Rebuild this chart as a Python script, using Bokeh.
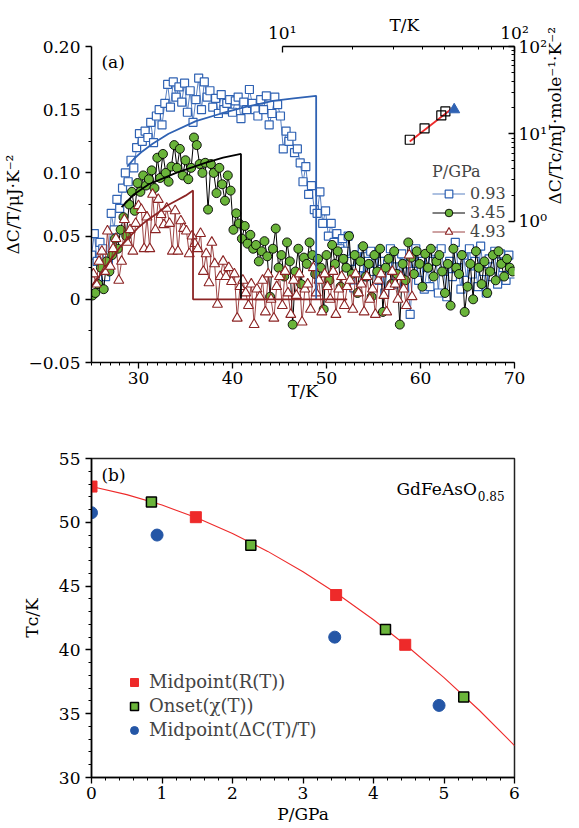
import math
from bokeh.plotting import figure
from bokeh.models import (Range1d, LogScale, LogAxis, FixedTicker, Label, Legend,
                          LegendItem, CustomJSTickFormatter, Title)
from bokeh.layouts import column
from bokeh.embed import file_html
from bokeh.resources import INLINE

FONT = "DejaVu Serif"

# ---------------- Panel (a): Delta C / T vs T ----------------
T_093 = [25.0, 25.3, 25.6, 25.9, 26.2, 26.5, 26.8, 27.1, 27.4, 27.7,
         28.0, 28.3, 28.6, 28.9, 29.2, 29.5, 29.8, 30.1, 30.4, 30.7,
         31.0, 31.3, 31.6, 31.9, 32.2, 32.5, 32.8, 33.1, 33.4, 33.7,
         34.0, 34.3, 34.6, 34.9, 35.2, 35.5, 35.8, 36.1, 36.4, 36.7,
         37.0, 37.3, 37.6, 37.9, 38.2, 38.5, 38.8, 39.1, 39.4, 39.7,
         40.0, 40.3, 40.6, 40.9, 41.2, 41.5, 41.8, 42.1, 42.4, 42.7,
         43.0, 43.3, 43.6, 43.9, 44.2, 44.5, 44.8, 45.1, 45.4, 45.7,
         46.0, 46.3, 46.6, 46.9, 47.2, 47.5, 47.8, 48.1, 48.4, 48.7,
         49.0, 49.3, 49.6, 49.9, 50.2, 50.5, 50.8, 51.1, 51.4, 51.7,
         52.0, 52.3, 52.6, 52.9, 53.2, 53.5, 53.8, 54.1, 54.4, 54.7,
         55.0, 55.3, 55.6, 55.9, 56.2, 56.5, 56.8, 57.1, 57.4, 57.7,
         58.0, 58.3, 58.6, 58.9, 59.2, 59.5, 59.8, 60.1, 60.4, 60.7,
         61.0, 61.3, 61.6, 61.9, 62.2, 62.5, 62.8, 63.1, 63.4, 63.7,
         64.0, 64.3, 64.6, 64.9, 65.2, 65.5, 65.8, 66.1, 66.4, 66.7,
         67.0, 67.3, 67.6, 67.9, 68.2, 68.5, 68.8, 69.1, 69.4, 69.7]
dC_093 = [0.035, 0.052, 0.030, 0.045, 0.040, 0.018, 0.030, 0.068, 0.055, 0.079,
          0.072, 0.088, 0.100, 0.093, 0.110, 0.104, 0.120, 0.131, 0.125, 0.133,
          0.128, 0.140, 0.124, 0.145, 0.150, 0.138, 0.155, 0.170, 0.152, 0.172,
          0.160, 0.168, 0.156, 0.171, 0.148, 0.165, 0.140, 0.158, 0.175, 0.150,
          0.172, 0.160, 0.165, 0.152, 0.159, 0.147, 0.162, 0.150, 0.155, 0.158,
          0.148, 0.157, 0.160, 0.143, 0.156, 0.150, 0.166, 0.155, 0.150, 0.145,
          0.158, 0.150, 0.161, 0.138, 0.147, 0.160, 0.154, 0.145, 0.119, 0.133,
          0.125, 0.129, 0.116, 0.119, 0.108, 0.093, 0.105, 0.083, 0.090, 0.071,
          0.068, 0.085, 0.060, 0.070, 0.050, 0.060, 0.045, 0.052, 0.040, 0.048,
          0.038, 0.050, 0.030, 0.009, 0.035, 0.025, 0.040, 0.018, 0.030, 0.038,
          0.022, 0.035, 0.015, 0.030, 0.005, 0.028, 0.040, 0.012, 0.032, 0.020,
          0.036, 0.010, 0.028, -0.012, 0.022, 0.040, 0.015, 0.030, 0.008, 0.025,
          0.010, 0.030, 0.038, 0.005, 0.040, 0.022, 0.002, 0.030, 0.018, 0.045,
          0.025, 0.008, 0.035, 0.015, 0.040, 0.020, 0.030, 0.010, 0.042, 0.022,
          0.005, 0.032, 0.018, 0.038, 0.012, 0.036, 0.025, 0.015, 0.035, 0.020]

T_345 = [25.1, 25.4, 25.7, 26.0, 26.3, 26.6, 26.9, 27.2, 27.5, 27.8,
         28.1, 28.4, 28.7, 29.0, 29.3, 29.6, 29.9, 30.2, 30.5, 30.8,
         31.1, 31.4, 31.7, 32.0, 32.3, 32.6, 32.9, 33.2, 33.5, 33.8,
         34.1, 34.4, 34.7, 35.0, 35.3, 35.6, 35.9, 36.2, 36.5, 36.8,
         37.1, 37.4, 37.7, 38.0, 38.3, 38.6, 38.9, 39.2, 39.5, 39.8,
         40.1, 40.4, 40.7, 41.0, 41.3, 41.6, 41.9, 42.2, 42.5, 42.8,
         43.1, 43.4, 43.7, 44.0, 44.3, 44.6, 44.9, 45.2, 45.5, 45.8,
         46.1, 46.4, 46.7, 47.0, 47.3, 47.6, 47.9, 48.2, 48.5, 48.8,
         49.1, 49.4, 49.7, 50.0, 50.3, 50.6, 50.9, 51.2, 51.5, 51.8,
         52.1, 52.4, 52.7, 53.0, 53.3, 53.6, 53.9, 54.2, 54.5, 54.8,
         55.1, 55.4, 55.7, 56.0, 56.3, 56.6, 56.9, 57.2, 57.5, 57.8,
         58.1, 58.4, 58.7, 59.0, 59.3, 59.6, 59.9, 60.2, 60.5, 60.8,
         61.1, 61.4, 61.7, 62.0, 62.3, 62.6, 62.9, 63.2, 63.5, 63.8,
         64.1, 64.4, 64.7, 65.0, 65.3, 65.6, 65.9, 66.2, 66.5, 66.8,
         67.1, 67.4, 67.7, 68.0, 68.3, 68.6, 68.9, 69.2, 69.5, 69.8]
dC_345 = [0.003, 0.005, 0.012, 0.025, 0.008, 0.030, 0.022, 0.035, 0.048, 0.040,
          0.055, 0.065, 0.050, 0.075, 0.085, 0.070, 0.092, 0.085, 0.098, 0.090,
          0.095, 0.102, 0.088, 0.112, 0.096, 0.115, 0.100, 0.093, 0.105, 0.122,
          0.104, 0.119, 0.098, 0.110, 0.095, 0.104, 0.128, 0.122, 0.107, 0.100,
          0.108, 0.071, 0.107, 0.100, 0.084, 0.104, 0.091, 0.078, 0.098, 0.086,
          0.055, 0.068, 0.060, 0.048, 0.058, 0.044, 0.051, 0.040, 0.043, 0.030,
          0.038, 0.046, 0.034, 0.002, 0.040, 0.056, 0.025, 0.035, 0.018, 0.045,
          0.030, -0.020, 0.022, 0.040, 0.012, 0.033, 0.028, 0.045, 0.035, 0.020,
          0.032, 0.025, -0.008, 0.035, 0.015, 0.043, 0.028, 0.038, 0.010, 0.032,
          0.025, 0.050, 0.020, 0.035, 0.005, 0.030, 0.042, 0.018, 0.028, 0.002,
          0.035, 0.022, 0.040, -0.010, 0.025, 0.032, 0.012, 0.038, 0.020, -0.020,
          0.028, 0.015, 0.045, 0.033, 0.020, 0.038, 0.028, 0.010, 0.036, 0.025,
          0.040, 0.018, 0.030, 0.035, 0.022, 0.005, 0.028, -0.005, 0.040, 0.025,
          0.020, 0.035, -0.010, 0.010, 0.028, 0.000, 0.038, 0.025, 0.012, 0.030,
          0.005, 0.022, 0.035, 0.015, 0.038, 0.028, 0.018, 0.032, 0.025, 0.022]

T_493 = [25.2, 25.5, 25.8, 26.1, 26.4, 26.7, 27.0, 27.3, 27.6, 27.9,
         28.2, 28.5, 28.8, 29.1, 29.4, 29.7, 30.0, 30.3, 30.6, 30.9,
         31.2, 31.5, 31.8, 32.1, 32.4, 32.7, 33.0, 33.3, 33.6, 33.9,
         34.2, 34.5, 34.8, 35.1, 35.4, 35.7, 36.0, 36.3, 36.6, 36.9,
         37.2, 37.5, 37.8, 38.1, 38.4, 38.7, 39.0, 39.3, 39.6, 39.9,
         40.2, 40.5, 40.8, 41.1, 41.4, 41.7, 42.0, 42.3, 42.6, 42.9,
         43.2, 43.5, 43.8, 44.1, 44.4, 44.7, 45.0, 45.3, 45.6, 45.9,
         46.2, 46.5, 46.8, 47.1, 47.4, 47.7, 48.0, 48.3, 48.6, 48.9,
         49.2, 49.5, 49.8, 50.1, 50.4, 50.7, 51.0, 51.3, 51.6, 51.9,
         52.2, 52.5, 52.8, 53.1, 53.4, 53.7, 54.0, 54.3, 54.6, 54.9,
         55.2, 55.5, 55.8, 56.1, 56.4, 56.7, 57.0, 57.3, 57.6, 57.9,
         58.2, 58.5, 58.8, 59.1]
dC_493 = [0.020, 0.012, 0.030, 0.038, 0.022, 0.054, 0.026, 0.040, 0.048, 0.015,
          0.030, 0.063, 0.045, 0.055, 0.038, 0.060, 0.074, 0.071, 0.040, 0.065,
          0.040, 0.083, 0.055, 0.079, 0.067, 0.059, 0.072, 0.060, 0.038, 0.070,
          0.038, 0.062, 0.056, 0.054, 0.036, 0.050, 0.044, 0.040, 0.052, 0.022,
          0.036, 0.013, 0.045, 0.028, -0.004, 0.018, 0.030, 0.018, 0.025, 0.014,
          0.020, -0.015, 0.010, 0.015, 0.005, -0.005, 0.012, -0.020, 0.008, 0.002,
          0.015, -0.010, 0.020, 0.000, -0.015, 0.010, 0.018, -0.005, 0.022, 0.005,
          -0.012, 0.015, 0.003, 0.020, -0.018, 0.008, 0.012, -0.008, 0.025, 0.005,
          0.015, -0.010, 0.020, 0.010, 0.000, 0.022, -0.012, 0.008, 0.018, -0.005,
          0.010, 0.015, -0.008, 0.020, 0.005, 0.012, -0.010, 0.018, 0.000, 0.008,
          -0.012, 0.015, 0.020, 0.003, -0.010, 0.010, 0.022, 0.012, 0.000, 0.018,
          0.008, -0.005, 0.035, 0.002]

# fitted curves
fitT_093 = [28.8, 29.5, 30.4, 31.5, 33.2, 36.1, 38.8, 41.3, 44.3, 46.5, 48.9, 48.9]
fitC_093 = [0.105, 0.111, 0.117, 0.123, 0.131, 0.141, 0.147, 0.152, 0.157, 0.159, 0.161, 0.0]
fitT_345 = [28.2, 29.5, 31.1, 34.0, 37.1, 39.0, 40.9, 40.9]
fitC_345 = [0.073, 0.083, 0.091, 0.100, 0.108, 0.112, 0.115, 0.0]
fitT_493 = [25.0, 26.0, 27.0, 28.0, 29.0, 30.0, 31.0, 32.0, 33.0, 34.0, 35.0, 35.8, 35.8, 52.2]
fitC_493 = [0.010, 0.020, 0.031, 0.041, 0.049, 0.057, 0.063, 0.068, 0.074, 0.078, 0.082, 0.086, 0.0, 0.0]

# inset (log-log): Delta C / Tc vs T
inset_T = [35.4, 41.0, 48.4, 50.4]
inset_C = [8.6, 11.6, 16.3, 18.1]
inset_fitT = [35.4, 53.5]
inset_fitC = [8.2, 19.3]
inset_TcT = [55.0]
inset_TcC = [19.0]

# ---------------- Panel (b): Tc vs P ----------------
P_R = [0.0, 1.48, 3.47, 4.45]
Tc_R = [52.8, 50.4, 44.3, 40.4]
P_chi = [0.85, 2.26, 4.17, 5.28]
Tc_chi = [51.6, 48.2, 41.6, 36.3]
P_dC = [0.0, 0.93, 3.45, 4.93]
Tc_dC = [50.75, 49.0, 41.0, 35.65]
P_fit = [0.0, 0.5, 1.0, 1.5, 2.0, 2.5, 3.0, 3.5, 4.0, 4.5, 5.0, 5.5, 6.0]
Tc_fit = [52.8, 52.17, 51.35, 50.33, 49.13, 47.72, 46.13, 44.34, 42.36, 40.19, 37.83, 35.27, 32.5]

BLUE = "#2f62b3"
GREEN = "#6ab43a"
DRED = "#8c2424"
RED = "#ee2a2a"
TICK_SIZE = "17px"
TEXT_SIZE = "17px"

# ---------- figure (a) ----------
pa = figure(width=577, height=405, x_range=Range1d(25, 70), y_range=Range1d(-0.05, 0.20),
            output_backend="svg", toolbar_location=None,
            min_border_left=90, min_border_right=60, min_border_top=46, min_border_bottom=43)
pa.outline_line_color = None
pa.xgrid.visible = False
pa.ygrid.visible = False


def style_axis(ax, label=None, standoff=5):
    ax.axis_line_color = "black"
    ax.axis_line_width = 1.5
    ax.major_tick_line_color = "black"
    ax.major_tick_line_width = 1.3
    ax.minor_tick_line_color = "black"
    ax.minor_tick_line_width = 1.0
    ax.major_tick_out = 6
    ax.major_tick_in = 0
    ax.minor_tick_out = 3
    ax.minor_tick_in = 0
    ax.major_label_text_font = FONT
    ax.major_label_text_font_size = TICK_SIZE
    ax.major_label_text_color = "black"
    if label is not None:
        ax.axis_label = label
        ax.axis_label_text_font = FONT
        ax.axis_label_text_font_size = TEXT_SIZE
        ax.axis_label_text_font_style = "normal"
        ax.axis_label_text_color = "black"
        ax.axis_label_standoff = standoff


style_axis(pa.xaxis[0], "T/K", -6)
pa.xaxis[0].major_label_standoff = 3
style_axis(pa.yaxis[0], "\u0394C/T/\u03bcJ\u00b7K\u207b\u00b2", 2)
pa.xaxis.ticker = FixedTicker(ticks=[30, 40, 50, 60, 70], minor_ticks=list(range(25, 71)))
pa.yaxis.ticker = FixedTicker(ticks=[-0.05, 0, 0.05, 0.1, 0.15, 0.2],
                              minor_ticks=[-0.025, 0.025, 0.075, 0.125, 0.175])
pa.yaxis.formatter = CustomJSTickFormatter(code="""
if (Math.abs(tick) < 1e-9) return "0";
if (tick < 0) return "\u2212" + Math.abs(tick).toFixed(2);
return tick.toFixed(2);
""")

# data series
lb = pa.line(T_093, dC_093, line_color=BLUE, line_width=1, line_alpha=0.8)
sb = pa.scatter(T_093, dC_093, marker="square", size=8, line_color=BLUE, fill_color="white", line_width=1.2)
lg = pa.line(T_345, dC_345, line_color="black", line_width=1)
sg = pa.scatter(T_345, dC_345, marker="circle", size=9, line_color="black", fill_color=GREEN, line_width=0.9)
lr = pa.line(T_493, dC_493, line_color=DRED, line_width=1, line_alpha=0.85)
sr = pa.scatter(T_493, dC_493, marker="triangle", size=10, line_color=DRED, fill_color="white", line_width=1.1)

pa.line(fitT_093, fitC_093, line_color=BLUE, line_width=1.8)
pa.line(fitT_345, fitC_345, line_color="black", line_width=1.8)
pa.line(fitT_493, fitC_493, line_color=DRED, line_width=1.8)

# inset on log-log extra ranges
pa.extra_x_ranges = {"ix": Range1d(1.509, 100)}
pa.extra_x_scales = {"ix": LogScale()}
pa.extra_y_ranges = {"iy": Range1d(0.02446, 100)}
pa.extra_y_scales = {"iy": LogScale()}

LOGCODE = """
const e = Math.round(Math.log10(tick));
const sup = {0: "\u2070", 1: "\u00b9", 2: "\u00b2"};
return "10" + sup[e];
"""

top = LogAxis(x_range_name="ix", bounds=(10, 100),
              ticker=FixedTicker(ticks=[10, 100], minor_ticks=[20, 30, 40, 50, 60, 70, 80, 90]),
              formatter=CustomJSTickFormatter(code=LOGCODE))
style_axis(top)
top.major_tick_out = 0
top.major_tick_in = 6
top.minor_tick_out = 0
top.minor_tick_in = 3
top.major_label_standoff = 4
pa.add_layout(top, "above")
# inset x title, shifted over the inset axis span
pa.add_layout(Title(text="T/K", align="left", offset=298, standoff=-30,
                    text_font=FONT, text_font_size=TEXT_SIZE, text_font_style="normal",
                    text_color="black"), "above")

right = LogAxis(y_range_name="iy", bounds=(1, 100),
                ticker=FixedTicker(ticks=[1, 10, 100],
                                   minor_ticks=[2, 3, 4, 5, 6, 7, 8, 9, 20, 30, 40, 50, 60, 70, 80, 90]),
                formatter=CustomJSTickFormatter(code=LOGCODE))
style_axis(right, "\u0394C/T\u1d04/mJ\u00b7mole\u207b\u00b9\u00b7K\u207b\u00b2", 5)
right.major_tick_out = 0
right.major_tick_in = 6
right.minor_tick_out = 0
right.minor_tick_in = 3
right.major_label_standoff = 4
if "axis_label_orientation" in right.properties():
    right.axis_label_orientation = math.pi / 2
pa.add_layout(right, "right")

pa.line(inset_fitT, inset_fitC, x_range_name="ix", y_range_name="iy", line_color=RED, line_width=1.8)
pa.scatter(inset_T, inset_C, x_range_name="ix", y_range_name="iy", marker="square", size=9,
           line_color="black", fill_color="white", fill_alpha=0.0, line_width=1.2)
pa.scatter(inset_TcT, inset_TcC, x_range_name="ix", y_range_name="iy", marker="triangle", size=11,
           line_color=BLUE, fill_color=BLUE)

leg_a = Legend(items=[LegendItem(label="0.93", renderers=[lb, sb]),
                      LegendItem(label="3.45", renderers=[lg, sg]),
                      LegendItem(label="4.93", renderers=[lr, sr])],
               location=(341, 121), title="P/GPa")
leg_a.border_line_color = None
leg_a.background_fill_alpha = 0
leg_a.label_text_font = FONT
leg_a.label_text_font_size = "16px"
leg_a.title_text_font = FONT
leg_a.title_text_font_size = "16px"
leg_a.title_text_font_style = "normal"
leg_a.glyph_width = 33
leg_a.glyph_height = 19
leg_a.label_height = 19
leg_a.spacing = 0
leg_a.padding = 10
leg_a.margin = 0
leg_a.title_standoff = 3
pa.add_layout(leg_a)


def a_xy(px, py):
    return 25 + (px - 90) / 9.489, (298 - py) / 1264.0


def lab(p, xy, text, size=TEXT_SIZE, align="left", baseline="middle"):
    p.add_layout(Label(x=xy[0], y=xy[1], text=text, text_align=align,
                       text_baseline=baseline, text_font=FONT, text_font_size=size,
                       text_color="black"))


lab(pa, a_xy(100, 61), "(a)")

# ---------- figure (b) ----------
pb = figure(width=577, height=421, x_range=Range1d(0, 6), y_range=Range1d(30, 55),
            output_backend="svg", toolbar_location=None,
            min_border_left=90, min_border_right=60, min_border_top=53, min_border_bottom=48)
pb.outline_line_color = "#222222"
pb.outline_line_width = 1.5
pb.xgrid.visible = False
pb.ygrid.visible = False
style_axis(pb.xaxis[0], "P/GPa", 2)
pb.xaxis[0].major_label_standoff = 3
style_axis(pb.yaxis[0], "T\u1d04/K", 14)
pb.xaxis.ticker = FixedTicker(ticks=[0, 1, 2, 3, 4, 5, 6], minor_ticks=[i / 5 for i in range(31)])
pb.yaxis.ticker = FixedTicker(ticks=[30, 35, 40, 45, 50, 55], minor_ticks=list(range(30, 56)))

pb.line(P_fit, Tc_fit, line_color=RED, line_width=1.1)
rR = pb.scatter(P_R, Tc_R, marker="square", size=11, line_color=RED, fill_color=RED)
rC = pb.scatter(P_chi, Tc_chi, marker="square", size=10, line_color="black", fill_color=GREEN, line_width=1.5)
rD = pb.scatter(P_dC, Tc_dC, marker="circle", size=12, line_color="#2456a6", fill_color="#2456a6")

leg_b = Legend(items=[LegendItem(label="Midpoint(R(T))", renderers=[rR]),
                      LegendItem(label="Onset(\u03c7(T))", renderers=[rC]),
                      LegendItem(label="Midpoint(\u0394C(T)/T)", renderers=[rD])],
               location=(33, 37))
leg_b.border_line_color = None
leg_b.background_fill_alpha = 0
leg_b.label_text_font = FONT
leg_b.label_text_font_size = "18px"
leg_b.glyph_width = 20
leg_b.glyph_height = 20
leg_b.label_height = 20
leg_b.spacing = 3
leg_b.padding = 10
leg_b.margin = 0
pb.add_layout(leg_b)


def b_xy(px, py):
    return (px - 90) / 71.17, 55 - (py - 458) / 12.6


lab(pb, b_xy(100, 474), "(b)")
lab(pb, b_xy(479, 488), "GdFeAsO", align="right")
lab(pb, b_xy(480, 495), "0.85", size="12px")

layout = column(pa, pb)
open("out.html", "w").write(file_html(layout, INLINE))
